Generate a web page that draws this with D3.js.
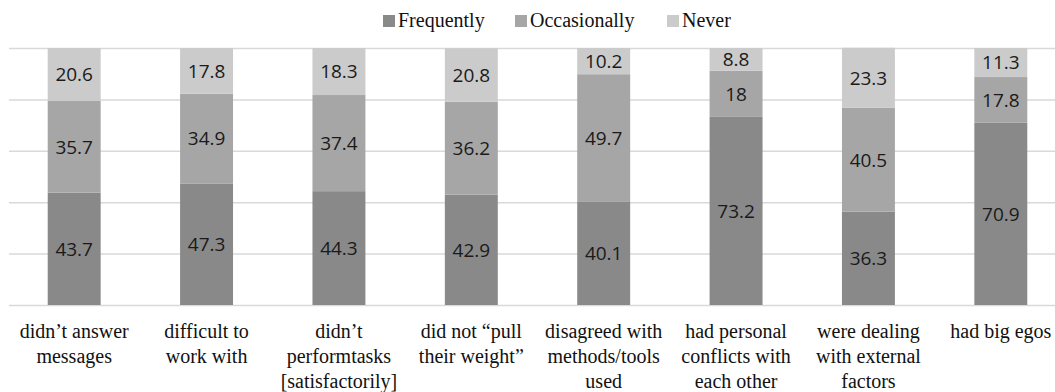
<!DOCTYPE html>
<html>
<head>
<meta charset="utf-8">
<script src="https://cdn.jsdelivr.net/npm/d3@7"></script>
<style>
  html, body { margin: 0; padding: 0; background: #fff; }
  svg { display: block; }
  .serif { font-family: "Liberation Serif", "DejaVu Serif", serif; }
  .sans { font-family: "Open Sans", "Noto Sans", sans-serif; }
</style>
</head>
<body>
<svg id="chart" width="1055" height="392"></svg>
<script>
const categories = [
  ["didn’t answer", "messages"],
  ["difficult to", "work with"],
  ["didn’t", "performtasks", "[satisfactorily]"],
  ["did not “pull", "their weight”"],
  ["disagreed with", "methods/tools", "used"],
  ["had personal", "conflicts with", "each other"],
  ["were dealing", "with external", "factors"],
  ["had big egos"]
];
const seriesNames = ["Frequently", "Occasionally", "Never"];
const frequently   = [43.7, 47.3, 44.3, 42.9, 40.1, 73.2, 36.3, 70.9];
const occasionally = [35.7, 34.9, 37.4, 36.2, 49.7, 18, 40.5, 17.8];
const never        = [20.6, 17.8, 18.3, 20.8, 10.2, 8.8, 23.3, 11.3];
const yTicks = [0, 20, 40, 60, 80, 100];

const colors = ["#898989", "#a6a6a6", "#cbcbcb"];

const svg = d3.select("#chart");
const plotTop = 48, plotBottom = 305;

const x = d3.scaleBand()
  .domain(d3.range(categories.length))
  .range([8, 1067])
  .paddingInner(0.6)
  .paddingOuter(0.3);
const y = d3.scaleLinear().domain([0, 100]).range([plotBottom, plotTop]);

// gridlines
const yAxis = d3.axisLeft(y).tickValues(yTicks).tickSize(-(1055 - 9)).tickFormat("");
const g = svg.append("g").attr("transform", "translate(9,0)").call(yAxis);
g.select(".domain").remove();
g.selectAll(".tick line").attr("stroke", "#d9d9d9").attr("stroke-width", 1.5);

// stacked data
const rows = categories.map((c, i) => ({ i, Frequently: frequently[i], Occasionally: occasionally[i], Never: never[i] }));
const stack = d3.stack().keys(seriesNames)(rows);

stack.forEach((layer, k) => {
  const lg = svg.append("g");
  lg.selectAll("rect").data(layer).join("rect")
    .attr("x", d => x(d.data.i))
    .attr("width", x.bandwidth())
    .attr("y", d => y(d[1]))
    .attr("height", d => y(d[0]) - y(d[1]))
    .attr("fill", colors[k]);
  lg.selectAll("text").data(layer).join("text")
    .attr("class", "sans")
    .attr("x", d => x(d.data.i) + x.bandwidth() / 2)
    .attr("y", d => (y(d[0]) + y(d[1])) / 2)
    .attr("dy", "0.36em")
    .attr("text-anchor", "middle")
    .attr("font-size", 19)
    .attr("fill", "#1a1a1a")
    .text(d => String(d.data[seriesNames[k]]));
});

// category labels
const cl = svg.append("g");
categories.forEach((lines, i) => {
  const t = cl.append("text")
    .attr("class", "serif")
    .attr("x", x(i) + x.bandwidth() / 2)
    .attr("y", 338)
    .attr("text-anchor", "middle")
    .attr("font-size", 20)
    .attr("fill", "#111");
  lines.forEach((ln, j) => {
    t.append("tspan").attr("x", x(i) + x.bandwidth() / 2).attr("dy", j === 0 ? 0 : 25).text(ln);
  });
});

// legend
const legendX = [383, 515, 667];
const lgd = svg.append("g");
seriesNames.forEach((s, k) => {
  lgd.append("rect").attr("x", legendX[k]).attr("y", 15).attr("width", 12).attr("height", 12).attr("fill", colors[k]);
  lgd.append("text").attr("class", "serif").attr("x", legendX[k] + 15).attr("y", 27)
    .attr("font-size", 20).attr("fill", "#111").text(s);
});
</script>
</body>
</html>
